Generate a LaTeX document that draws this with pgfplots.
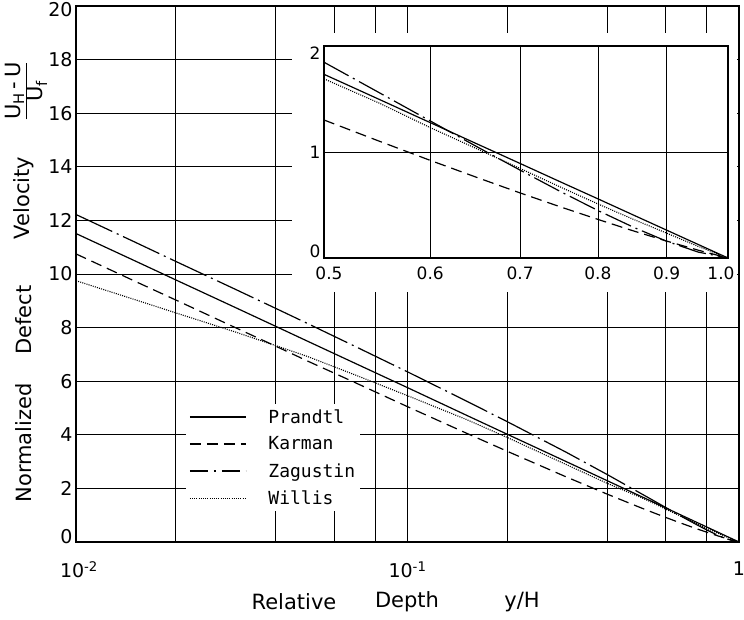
\documentclass[border=0pt]{standalone}
\usepackage{pgfplots}
\pgfplotsset{compat=1.18}
\usepackage{fontspec}
\setmainfont{DejaVu Sans}
\setmonofont{DejaVu Sans Mono}

\pgfplotsset{
  prandtl/.style={black, line width=1.2pt, solid},
  karman/.style={black, line width=1.2pt, dash pattern=on 11pt off 6pt},
  zagustin/.style={black, line width=1.2pt, dash pattern=on 40pt off 5pt on 2pt off 5pt},
  willis/.style={black, line width=1.1pt, dash pattern=on 1pt off 1.2pt},
}

\begin{document}
\begin{tikzpicture}
\useasboundingbox (-76pt,-77pt) rectangle (668pt,542pt);
\begin{axis}[
  at={(0pt,0pt)}, anchor=south west,
  scale only axis, width=663pt, height=536pt,
  xmode=log, xmin=0.01, xmax=1, ymin=0, ymax=20,
  xtick={0.01,0.1,1},
  xticklabels={\hspace*{6pt}10\textsuperscript{-2},10\textsuperscript{-1},1},
  minor xtick={0.02,0.04,0.06,0.08,0.2,0.4,0.6,0.8},
  ytick={0,2,...,20},
  yticklabels={\raisebox{5pt}[13.9pt][0pt]{0},2,4,6,8,10,12,14,16,18,\raisebox{-4pt}[13.9pt][0pt]{20}},
  xmajorgrids, xminorgrids, ymajorgrids,
  major grid style={black, line width=0.8pt},
  minor grid style={black, line width=0.8pt},
  major tick length=0pt, minor tick length=0pt,
  axis line style={line width=1.6pt},
  tick label style={font=\fontsize{19}{22}\selectfont},
  xticklabel style={yshift=-16pt},
  /pgf/number format/assume math mode=true,
  legend style={at={(0.166,0.257)}, anchor=north west, draw=none, fill=white,
    font=\ttfamily\fontsize{18}{21}\selectfont, row sep=8pt, inner sep=3pt,
    /tikz/every odd column/.append style={column sep=20pt}},
  legend cell align=left,
  legend image code/.code={\draw[#1] (0pt,0pt) -- (56pt,0pt);},
]
\addplot[prandtl] coordinates {(0.01,11.51) (0.015,10.50) (0.02,9.78) (0.03,8.77) (0.04,8.05) (0.05,7.49) (0.07,6.65) (0.1,5.76) (0.15,4.74) (0.2,4.02) (0.3,3.01) (0.4,2.29) (0.5,1.733) (0.55,1.495) (0.6,1.277) (0.65,1.077) (0.7,0.892) (0.75,0.719) (0.8,0.558) (0.85,0.406) (0.9,0.263) (0.95,0.128) (1,0)};
\addlegendentry{Prandtl}
\addplot[karman] coordinates {(0.01,10.75) (0.015,9.74) (0.02,9.03) (0.03,8.02) (0.04,7.31) (0.05,6.75) (0.07,5.93) (0.1,5.05) (0.15,4.07) (0.2,3.385) (0.3,2.438) (0.4,1.788) (0.5,1.302) (0.55,1.101) (0.6,0.921) (0.65,0.760) (0.7,0.614) (0.75,0.483) (0.8,0.364) (0.85,0.256) (0.9,0.160) (0.95,0.074) (1,0)};
\addlegendentry{Karman}
\addplot[zagustin, legend image post style={dash pattern=on 18pt off 6pt on 2pt off 6pt}] coordinates {(0.01,12.22) (0.015,11.20) (0.02,10.47) (0.03,9.45) (0.04,8.72) (0.05,8.15) (0.07,7.28) (0.1,6.35) (0.15,5.27) (0.2,4.49) (0.3,3.36) (0.4,2.52) (0.5,1.847) (0.55,1.558) (0.6,1.293) (0.65,1.050) (0.7,0.829) (0.75,0.628) (0.8,0.448) (0.85,0.291) (0.9,0.158) (0.95,0.056) (1,0)};
\addlegendentry{Zagustin}
\addplot[willis] coordinates {(0.01,9.75) (0.015,9.05) (0.02,8.55) (0.03,7.85) (0.04,7.33) (0.05,6.92) (0.07,6.22) (0.1,5.46) (0.15,4.58) (0.2,3.90) (0.3,2.90) (0.4,2.19) (0.5,1.69) (0.55,1.46) (0.6,1.23) (0.65,1.03) (0.7,0.845) (0.75,0.67) (0.8,0.51) (0.85,0.365) (0.9,0.235) (0.95,0.11) (1,0)};
\addlegendentry{Willis}
\end{axis}

\fill[white] (216pt,250pt) rectangle (661pt,509pt);

\begin{axis}[
  at={(248pt,284pt)}, anchor=south west,
  scale only axis, width=404pt, height=212pt,
  axis background/.style={fill=white},
  xmode=log, xmin=0.5, xmax=1, ymin=0, ymax=2,
  xtick={0.5,0.6,0.7,0.8,0.9,1.0},
  xticklabels={\hspace*{10pt}0.5,0.6,0.7,0.8,0.9,1.0\hspace*{14pt}},
  ytick={0,1,2}, yticklabels={\raisebox{7pt}[12.4pt][0pt]{0},1,\raisebox{-7pt}[12.4pt][0pt]{2}},
  minor xtick={},
  xmajorgrids, ymajorgrids,
  major grid style={black, line width=0.8pt},
  major tick length=0pt, minor tick length=0pt,
  axis line style={line width=1.3pt},
  tick label style={font=\fontsize{17}{20}\selectfont},
  xticklabel style={yshift=-5pt},
]
\addplot[prandtl] coordinates {(0.5,1.733) (0.55,1.495) (0.6,1.277) (0.65,1.077) (0.7,0.892) (0.75,0.719) (0.8,0.558) (0.85,0.406) (0.9,0.263) (0.95,0.128) (1,0)};
\addplot[karman] coordinates {(0.5,1.302) (0.55,1.101) (0.6,0.921) (0.65,0.760) (0.7,0.614) (0.75,0.483) (0.8,0.364) (0.85,0.256) (0.9,0.160) (0.95,0.074) (1,0)};
\addplot[zagustin, dash pattern=on 28pt off 5pt on 2pt off 5pt] coordinates {(0.5,1.847) (0.55,1.558) (0.6,1.293) (0.65,1.050) (0.7,0.829) (0.75,0.628) (0.8,0.448) (0.85,0.291) (0.9,0.158) (0.95,0.056) (1,0)};
\addplot[willis] coordinates {(0.5,1.69) (0.55,1.46) (0.6,1.23) (0.65,1.03) (0.7,0.845) (0.75,0.67) (0.8,0.51) (0.85,0.365) (0.9,0.235) (0.95,0.11) (1,0)};
\end{axis}

% axis labels
\begin{scope}[font=\fontsize{21}{25}\selectfont]
\node[rotate=90] at (-52pt,99pt) {Normalized};
\node[rotate=90] at (-52pt,222pt) {Defect};
\node[rotate=90] at (-52pt,344pt) {Velocity};
\node[rotate=90, font=\fontsize{21}{24}\selectfont, inner sep=0pt] at (-49pt,451pt)
  {\begin{tabular}{@{}c@{}}U\textsubscript{H}\,-\,U\\[-2pt]\hline U\textsubscript{f}\end{tabular}};
\node at (218pt,-60pt) {Relative};
\node at (331pt,-60pt) {Depth};
\node at (446pt,-60pt) {y/H};
\end{scope}
\end{tikzpicture}
\end{document}
